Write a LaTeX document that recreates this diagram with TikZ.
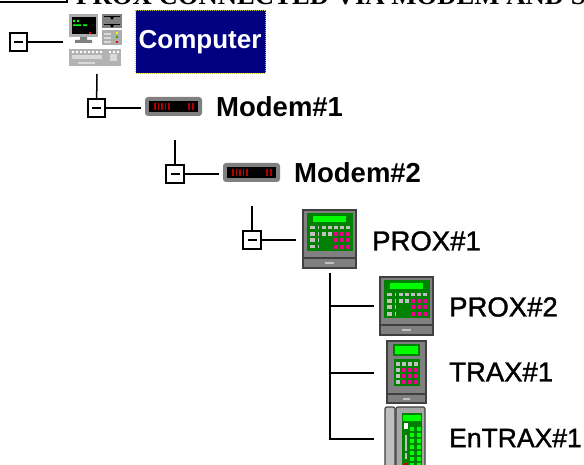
\documentclass[tikz,border=0pt]{standalone}
\usepackage{fontspec}
\setmainfont{Liberation Sans}
\newfontfamily\titlefont{Liberation Serif}
\newfontfamily\heavyfont[FakeBold=1.3]{Liberation Sans}
\usetikzlibrary{positioning}
\definecolor{navyblue}{HTML}{000080}
\definecolor{panelgreen}{HTML}{008000}
\definecolor{keygray}{HTML}{C0C0C0}
\definecolor{casegray}{HTML}{808080}
\definecolor{edgegray}{HTML}{404040}
\tikzset{
    proxicon/.pic={
        \fill[casegray, draw=edgegray, line width=1.2pt] (0,0) rectangle (53,58);
        \draw[edgegray, line width=1.2pt] (0,48) -- (53,48);
        \fill[keygray] (22,52) rectangle (31,54);
        \fill[panelgreen] (4,3) rectangle (50,41);
        \fill[green] (10,6) rectangle (43,12);
        \foreach \ky in {16,22.5,28.5,35} \fill[keygray] (7,\ky) rectangle (12,\ky+3.5);
        \foreach \ky in {16,22.5,28.5,35} \fill[keygray] (14.5,\ky) rectangle (16,\ky+3.5);
        \foreach \kx in {19,25} \foreach \ky in {16,22.5} \fill[keygray] (\kx,\ky) rectangle (\kx+3.5,\ky+3.5);
        \foreach \kx in {31,37,43} \fill[keygray] (\kx,16) rectangle (\kx+3.5,19.5);
        \foreach \kx in {31,37,43} \foreach \ky in {22.5,28.5,35} \fill[magenta] (\kx,\ky) rectangle (\kx+3.8,\ky+3.8);
    },
    traxicon/.pic={
        \fill[casegray, draw=edgegray, line width=1.2pt] (0,0) rectangle (39,62);
        \draw[edgegray, line width=1.2pt] (0,53) -- (39,53);
        \fill[keygray] (16,57) rectangle (23,59);
        \fill[panelgreen] (6,3) rectangle (33,15);
        \fill[green] (8,5) rectangle (31,13);
        \fill[panelgreen] (7,18) rectangle (33,45);
        \foreach \ky in {21,27,33,39} \fill[keygray] (9,\ky) rectangle (13,\ky+3.8);
        \foreach \kx in {15,21,27} \fill[keygray] (\kx,21) rectangle (\kx+3.8,24.8);
        \foreach \kx in {15,21,27} \foreach \ky in {27,33,39} \fill[magenta] (\kx,\ky) rectangle (\kx+3.8,\ky+3.8);
    },
    entraxicon/.pic={
        \fill[keygray, draw=edgegray, line width=1.2pt, rounded corners=2pt] (0,0) rectangle (10,70);
        \fill[keygray!60!casegray, draw=edgegray, line width=1.2pt, rounded corners=2pt] (11,0) rectangle (40,70);
        \fill[panelgreen] (17,6) rectangle (37,70);
        \fill[green] (18,8) rectangle (36,14);
        \fill[white] (19,16) rectangle (23,22);
        \fill[keygray] (20,28) rectangle (22,44);
        \fill[keygray] (20,46) rectangle (22,52);
        \fill[red!80!black] (19,56) rectangle (23,62);
        \foreach \kx in {25,32} \foreach \ky in {20,26,...,62} \fill[green] (\kx,\ky) rectangle (\kx+4,\ky+4);
    },
    modemicon/.pic={
        \fill[casegray, rounded corners=3pt] (0,0) rectangle (57,19);
        \fill[black] (4,4) rectangle (53,15);
        \foreach \kx in {9,12.5,...,23} \fill[red!70!black] (\kx,6) rectangle (\kx+1.7,13);
        \foreach \kx in {43,47} \fill[red!70!black] (\kx,6) rectangle (\kx+2,13);
    },
    computericon/.pic={
        \fill[keygray!70!casegray] (0,0) rectangle (29,23);
        \fill[black] (3,3) rectangle (27,20);
        \fill[green] (4,6) rectangle (6,8) (8,6) rectangle (10,8) (4,10.5) rectangle (12,12) (14,10.5) rectangle (18,12);
        \fill[red] (20,18) rectangle (22,20);
        \fill[casegray] (11,23) rectangle (18,26) (6,26) rectangle (23,29);
        \fill[casegray] (33,0) rectangle (53,14);
        \draw[black, line width=1pt] (35,3) -- (51,3) (35,11) -- (51,11);
        \fill[black] (41,3) -- (45,3) -- (43,6) -- cycle (41,11) -- (45,11) -- (43,14) -- cycle;
        \fill[keygray!70!casegray] (33,16) rectangle (53,31);
        \foreach \ky in {19,23,27} \fill[white!85!black] (35,\ky) rectangle (42,\ky+2);
        \fill[yellow] (47,18) rectangle (49,20);
        \fill[green!70!black] (47,22) rectangle (49,24);
        \fill[red] (47,27) rectangle (49,29);
        \fill[keygray!80!casegray] (0,35) rectangle (52,52);
        \foreach \kx in {3,7,...,31} \fill[white] (\kx,37) rectangle (\kx+2,39);
        \foreach \kx in {40,44,48} \fill[white] (\kx,37) rectangle (\kx+2,39);
        \fill[white!85!black] (3,41) rectangle (33,45);
        \fill[white!85!black] (41,40) rectangle (48,47);
        \fill[white!85!black] (9,48) rectangle (26,50);
    }
}
\begin{document}
\begin{tikzpicture}[
    x=1pt, y=-1pt,
    toggle/.style={rectangle, draw=black, fill=white, line width=1.6pt, minimum size=17.5pt, inner sep=0pt, outer sep=0pt, path picture={\draw[line width=1.6pt] (path picture bounding box.center) ++(-4.5pt,0) -- ++(9pt,0);}},
    icon/.style={rectangle, inner sep=0pt, outer sep=0pt},
    boldlabel/.style={font=\fontsize{27.5}{30}\selectfont\bfseries, inner sep=0pt, anchor=west, text=black},
    plainlabel/.style={font=\heavyfont\fontsize{27.5}{30}\selectfont, inner sep=0pt, anchor=west, text=black},
    wire/.style={line width=1.5pt, draw=black}
]
    \useasboundingbox (0,0) rectangle (584,465);
    \clip (0,0) rectangle (584,465);
    \fill[white] (0,0) rectangle (584,465);

    \node[rectangle, draw=black, fill=white, line width=2pt, inner sep=0pt, minimum width=80pt, minimum height=20pt, anchor=south east] (titlebox) at (67.5,3.5) {};
    \node[font=\titlefont\fontsize{26.7}{28}\selectfont\bfseries, inner sep=0pt, anchor=base west] (title) at (76,4.5) {PROX CONNECTED VIA MODEM AND S};

    \node[toggle] (tog1) at (18.5,42) {};
    \node[toggle] (tog2) at (96.5,108) {};
    \node[toggle] (tog3) at (175,174) {};
    \node[toggle] (tog4) at (252,240) {};

    \node[icon, minimum width=54pt, minimum height=52pt] (computer) at (96,40) {};
    \pic at (69,14) {computericon};
    \node[rectangle, fill=navyblue, draw=yellow!80!black, densely dotted, line width=1pt, minimum width=130pt, minimum height=63pt, inner sep=0pt, anchor=north west] (complabel) at (135,10) {};
    \node[font=\fontsize{26}{28}\selectfont\bfseries, text=white, inner sep=0pt] (comptext) at (200,42) {Computer};

    \node[icon, minimum width=57pt, minimum height=19pt, anchor=north west] (modem1) at (145,97) {};
    \pic at (145,97) {modemicon};
    \node[boldlabel, right=14pt of modem1] (modem1text) {Modem\#1};

    \node[icon, minimum width=57pt, minimum height=19pt, anchor=north west] (modem2) at (223,163) {};
    \pic at (223,163) {modemicon};
    \node[boldlabel, right=14pt of modem2] (modem2text) {Modem\#2};

    \node[icon, minimum width=53pt, minimum height=58pt, anchor=north west] (prox1) at (303,210) {};
    \pic at (303,210) {proxicon};
    \node[plainlabel] (prox1text) at (372,241) {PROX\#1};

    \node[icon, minimum width=53pt, minimum height=58pt, anchor=north west] (prox2) at (380,277) {};
    \pic at (380,277) {proxicon};
    \node[plainlabel] (prox2text) at (449,307) {PROX\#2};

    \node[icon, minimum width=39pt, minimum height=62pt, anchor=north west] (trax1) at (387,341) {};
    \pic at (387,341) {traxicon};
    \node[plainlabel] (trax1text) at (449,372) {TRAX\#1};

    \node[icon, minimum width=40pt, minimum height=58pt, anchor=north west] (entrax1) at (385,407) {};
    \pic at (385,407) {entraxicon};
    \node[plainlabel, font=\heavyfont\fontsize{26.5}{30}\selectfont] (entrax1text) at (449,438) {EnTRAX\#1};

    \coordinate (stem1) at (97,74);
    \coordinate (stem2) at (175,140);
    \coordinate (stem3) at (252,206);
    \coordinate (stem4) at (330,273);
    \coordinate (end1) at (63,42);
    \coordinate (end2) at (141,108);
    \coordinate (end3) at (219,174);
    \coordinate (end4) at (296,240);
    \coordinate (end5) at (374,306);
    \coordinate (end6) at (374,373);
    \coordinate (end7) at (374,439);

    \draw[wire] (tog1) -- (end1);
    \draw[wire] (stem1) -- (tog2);
    \draw[wire] (tog2) -- (end2);
    \draw[wire] (stem2) -- (tog3);
    \draw[wire] (tog3) -- (end3);
    \draw[wire] (stem3) -- (tog4);
    \draw[wire] (tog4) -- (end4);
    \draw[wire] (stem4) |- (end5);
    \draw[wire] (stem4) |- (end6);
    \draw[wire] (stem4) |- (end7);
\end{tikzpicture}
\end{document}
